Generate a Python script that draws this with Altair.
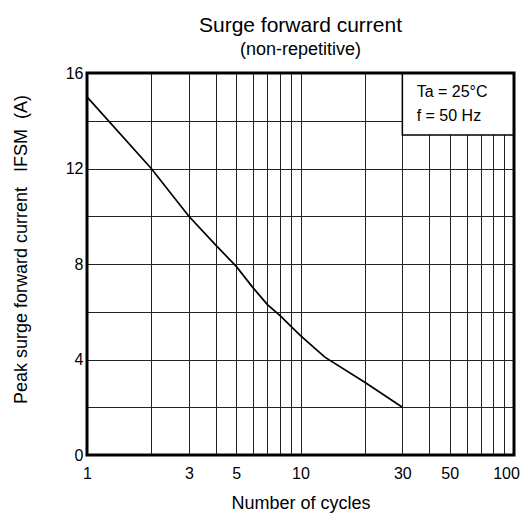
import altair as alt
import pandas as pd

# Curve data
cycles = [1, 2, 3, 4, 5, 6, 7, 8, 10, 13, 20, 30]
current = [15.0, 12.0, 10.0, 8.8, 7.9, 7.0, 6.3, 5.85, 5.0, 4.1, 3.05, 2.0]

# Axis ticks / grid
x_grid = [1, 2, 3, 4, 5, 6, 7, 8, 9, 10, 20, 30, 40, 50, 60, 70, 80, 90, 100]
x_labels = [1, 3, 5, 10, 30, 50, 100]
y_grid = [0, 2, 4, 6, 8, 10, 12, 14, 16]
y_labels = [0, 4, 8, 12, 16]

x_domain = [1, 100]
y_domain = [0, 16]

# Condition box
box_x = [30, 100]
box_y = [13.4, 16]
note_lines = ["Ta = 25°C", "f = 50 Hz"]
note_x = [35, 35]
note_y = [15, 14]

FONT = "Liberation Sans"
NB = "\u00a0"

curve_df = pd.DataFrame({"n": cycles, "i": current})
frame_df = pd.DataFrame({"x": [x_domain[0]], "x2": [x_domain[1]], "y": [y_domain[0]], "y2": [y_domain[1]]})
box_df = pd.DataFrame({"x": [box_x[0]], "x2": [box_x[1]], "y": [box_y[0]], "y2": [box_y[1]]})
note_df = pd.DataFrame({"t": note_lines, "x": note_x, "y": note_y})

label_set_x = "[" + ",".join(str(v) for v in x_labels) + "]"
label_set_y = "[" + ",".join(str(v) for v in y_labels) + "]"

x_scale = alt.Scale(type="log", domain=x_domain, nice=False)
y_scale = alt.Scale(domain=y_domain, nice=False)

x_axis = alt.Axis(
    values=x_grid,
    labelExpr=f"indexof({label_set_x}, datum.value) >= 0 ? datum.value : ''",
    ticks=False, tickSize=0, domain=False,
    grid=True, gridColor="#222222", gridWidth=1, gridOpacity=1,
    labelFont=FONT, labelFontSize=16, labelColor="black",
    labelPadding=23, labelBaseline="alphabetic",
    labelOffset={"condition": {"test": "datum.value == 100", "value": -8}, "value": 0},
    labelFlush=False, labelOverlap=False,
    title="Number of cycles", titleFont=FONT, titleFontSize=18,
    titleFontWeight="normal", titleColor="black",
    titleBaseline="alphabetic", titleY=53,
)
y_axis = alt.Axis(
    values=y_grid,
    labelExpr=f"indexof({label_set_y}, datum.value) >= 0 ? datum.value : ''",
    ticks=False, tickSize=0, domain=False,
    grid=True, gridColor="#222222", gridWidth=1, gridOpacity=1,
    labelFont=FONT, labelFontSize=16, labelColor="black",
    labelPadding=4, labelFlush=False, labelOverlap=False,
    title=f"Peak surge forward current{NB*3}IFSM{NB*2}(A)",
    titleFont=FONT, titleFontSize=18, titleFontWeight="normal",
    titleColor="black", titleAngle=270, titleBaseline="alphabetic",
    titleAlign="center", titleX=-61, titleY=176,
)

curve = alt.Chart(curve_df).mark_line(color="black", strokeWidth=1.7).encode(
    x=alt.X("n:Q", scale=x_scale, axis=x_axis),
    y=alt.Y("i:Q", scale=y_scale, axis=y_axis),
)

box = alt.Chart(box_df).mark_rect(fill="white", stroke="black", strokeWidth=1.5).encode(
    x=alt.X("x:Q", scale=x_scale), x2="x2:Q",
    y=alt.Y("y:Q", scale=y_scale), y2="y2:Q",
)

notes = alt.Chart(note_df).mark_text(
    align="left", baseline="alphabetic", font=FONT, fontSize=16, color="black"
).encode(
    x=alt.X("x:Q", scale=x_scale),
    y=alt.Y("y:Q", scale=y_scale),
    text="t:N",
)

frame = alt.Chart(frame_df).mark_rect(filled=False, stroke="black", strokeWidth=3).encode(
    x=alt.X("x:Q", scale=x_scale), x2="x2:Q",
    y=alt.Y("y:Q", scale=y_scale), y2="y2:Q",
)

chart = alt.layer(curve, box, notes, frame).properties(
    width=427,
    height=382,
    padding={"left": 79, "top": 65, "right": 6, "bottom": 59},
    autosize=alt.AutoSizeParams(type="none"),
    title=alt.TitleParams(
        text="Surge forward current",
        subtitle="(non-repetitive)",
        font=FONT, fontSize=21, fontWeight="normal", color="black",
        subtitleFont=FONT, subtitleFontSize=18, subtitleColor="black",
        anchor="middle", frame="group", offset=6, subtitlePadding=5,
    ),
).configure_view(stroke=None).configure(background="white")

chart.save("out.html", embed_options={"renderer": "svg", "actions": False})
